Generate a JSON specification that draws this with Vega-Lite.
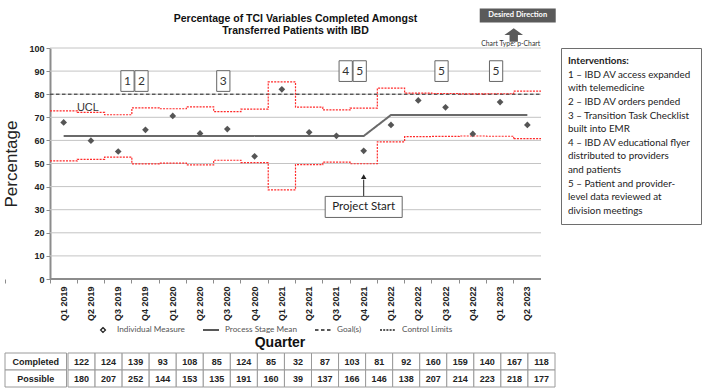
{
  "$schema": "https://vega.github.io/schema/vega-lite/v6.json",
  "background": "white",
  "padding": {"left": 1, "top": 8, "right": 2, "bottom": 2},
  "datasets": {
    "quarters": [
      {"q": "Q1 2019", "Completed": 122, "Possible": 180, "pct": 67.8, "ucl": 72.8, "lcl": 51.1, "mean": 61.9},
      {"q": "Q2 2019", "Completed": 124, "Possible": 207, "pct": 59.9, "ucl": 72.1, "lcl": 51.8, "mean": 61.9},
      {"q": "Q3 2019", "Completed": 139, "Possible": 252, "pct": 55.2, "ucl": 71.1, "lcl": 52.8, "mean": 61.9},
      {"q": "Q4 2019", "Completed": 93, "Possible": 144, "pct": 64.6, "ucl": 74.1, "lcl": 49.8, "mean": 61.9},
      {"q": "Q1 2020", "Completed": 108, "Possible": 153, "pct": 70.6, "ucl": 73.7, "lcl": 50.2, "mean": 61.9},
      {"q": "Q2 2020", "Completed": 85, "Possible": 135, "pct": 63.0, "ucl": 74.5, "lcl": 49.4, "mean": 61.9},
      {"q": "Q3 2020", "Completed": 124, "Possible": 191, "pct": 64.9, "ucl": 72.5, "lcl": 51.4, "mean": 61.9},
      {"q": "Q4 2020", "Completed": 85, "Possible": 160, "pct": 53.1, "ucl": 73.5, "lcl": 50.4, "mean": 61.9},
      {"q": "Q1 2021", "Completed": 32, "Possible": 39, "pct": 82.1, "ucl": 85.3, "lcl": 38.6, "mean": 61.9},
      {"q": "Q2 2021", "Completed": 87, "Possible": 137, "pct": 63.5, "ucl": 74.4, "lcl": 49.5, "mean": 61.9},
      {"q": "Q3 2021", "Completed": 103, "Possible": 166, "pct": 62.0, "ucl": 73.2, "lcl": 50.6, "mean": 61.9},
      {"q": "Q4 2021", "Completed": 81, "Possible": 146, "pct": 55.5, "ucl": 74.0, "lcl": 49.9, "mean": 61.9},
      {"q": "Q1 2022", "Completed": 92, "Possible": 138, "pct": 66.7, "ucl": 82.6, "lcl": 59.4, "mean": 71.0},
      {"q": "Q2 2022", "Completed": 160, "Possible": 207, "pct": 77.3, "ucl": 80.5, "lcl": 61.6, "mean": 71.0},
      {"q": "Q3 2022", "Completed": 159, "Possible": 214, "pct": 74.3, "ucl": 80.3, "lcl": 61.7, "mean": 71.0},
      {"q": "Q4 2022", "Completed": 140, "Possible": 223, "pct": 62.8, "ucl": 80.1, "lcl": 61.9, "mean": 71.0},
      {"q": "Q1 2023", "Completed": 167, "Possible": 218, "pct": 76.6, "ucl": 80.2, "lcl": 61.8, "mean": 71.0},
      {"q": "Q2 2023", "Completed": 118, "Possible": 177, "pct": 66.7, "ucl": 81.3, "lcl": 60.8, "mean": 71.0}
    ],
    "notes": [
      {"kind": "title", "q": "Q2 2021", "label": "Percentage of TCI Variables Completed Amongst\nTransferred Patients with IBD"},
      {"kind": "direction", "q": "Q2 2023", "label": "Desired Direction"},
      {"kind": "charttype", "q": "Q2 2023", "label": "Chart Type: p-Chart"},
      {"kind": "start", "q": "Q4 2021", "label": "Project Start"},
      {"kind": "ucl", "q": "Q2 2019", "label": "UCL"},
      {"kind": "box", "q": "Q4 2019", "label": "1"},
      {"kind": "box", "q": "Q4 2019", "label": "2"},
      {"kind": "box", "q": "Q3 2020", "label": "3"},
      {"kind": "box", "q": "Q4 2021", "label": "4"},
      {"kind": "box", "q": "Q4 2021", "label": "5"},
      {"kind": "box", "q": "Q3 2022", "label": "5"},
      {"kind": "box", "q": "Q1 2023", "label": "5"}
    ],
    "grid": [{"g": 10}, {"g": 20}, {"g": 30}, {"g": 40}, {"g": 50}, {"g": 60}, {"g": 70}, {"g": 80}, {"g": 90}, {"g": 100}],
    "goal": [{"goal": 80}],
    "interventions": [
      {"i": 0, "t": "Interventions:"},
      {"i": 1, "t": "1 – IBD AV access expanded"},
      {"i": 2, "t": "with telemedicine"},
      {"i": 3, "t": "2 – IBD AV orders pended"},
      {"i": 4, "t": "3 – Transition Task Checklist"},
      {"i": 5, "t": "built into EMR"},
      {"i": 6, "t": "4 – IBD AV educational flyer"},
      {"i": 7, "t": "distributed to providers"},
      {"i": 8, "t": "and patients"},
      {"i": 9, "t": "5 – Patient and provider-"},
      {"i": 10, "t": "level data reviewed at"},
      {"i": 11, "t": "division meetings"}
    ]
  },
  "concat": [
    {
      "hconcat": [
        {
          "width": 536,
          "height": 231,
          "data": {"name": "quarters"},
          "layer": [
            {
              "data": {"name": "grid"},
              "mark": {"type": "rule", "color": "#c4c4c4", "strokeWidth": 1},
              "encoding": {
                "x": {"datum": "Q1 2019", "type": "ordinal", "bandPosition": 0},
                "x2": {"datum": "Q2 2023", "bandPosition": 1},
                "y": {
                  "field": "g", "type": "quantitative",
                  "scale": {"domain": [0, 100], "nice": false},
                  "axis": {
                    "values": [0, 10, 20, 30, 40, 50, 60, 70, 80, 90, 100],
                    "tickCount": 11,
                    "labelOverlap": false,
                    "grid": false, "offset": -45,
                    "domainColor": "#8c8c8c", "domainWidth": 2,
                    "tickColor": "#8c8c8c", "tickSize": 4,
                    "labelFont": "Liberation Sans", "labelFontWeight": "bold", "labelFontSize": 9, "labelColor": "#222222",
                    "title": "Percentage", "titleFont": "Liberation Sans", "titleFontSize": 17, "titleFontWeight": "normal",
                    "titleColor": "#222222", "titlePadding": 8
                  }
                }
              }
            },
            {
              "mark": {"type": "rule", "color": "#8c8c8c", "strokeWidth": 1.5},
              "encoding": {
                "x": {"datum": "Q1 2019", "type": "ordinal", "bandPosition": 0},
                "x2": {"datum": "Q2 2023", "bandPosition": 1},
                "y": {"datum": 0}
              }
            },
            {
              "data": {"name": "goal"},
              "mark": {"type": "rule", "color": "#222222", "strokeWidth": 1},
              "encoding": {
                "x": {"datum": "Q1 2019", "type": "ordinal", "bandPosition": 0},
                "x2": {"datum": "Q2 2023", "bandPosition": 1},
                "y": {"field": "goal", "type": "quantitative"},
                "strokeDash": {
                  "datum": "Goal(s)",
                  "scale": {"domain": ["Individual Measure", "Process Stage Mean", "Goal(s)", "Control Limits"],
                            "range": [[1, 0], [1, 0], [3.5, 2.5], [2, 1.2]]},
                  "legend": {"title": null, "encode": {"symbols": {"update": {"fill": {"value": "#707070"}, "stroke": {"value": "#7a7a7a"}}}}}
                }
              }
            },
            {
              "mark": {"type": "line", "interpolate": "step-after", "color": "#ff2a2a", "strokeWidth": 1.2},
              "encoding": {
                "x": {
                  "field": "q", "type": "ordinal", "bandPosition": 0,
                  "scale": {"type": "band", "paddingInner": 0, "paddingOuter": 0.825, "align": 1,
                    "domain": ["Q1 2019","Q2 2019","Q3 2019","Q4 2019","Q1 2020","Q2 2020","Q3 2020","Q4 2020","Q1 2021","Q2 2021","Q3 2021","Q4 2021","Q1 2022","Q2 2022","Q3 2022","Q4 2022","Q1 2023","Q2 2023"]},
                  "axis": {
                    "title": null, "labelAngle": -90, "labelFont": "Liberation Sans", "labelFontWeight": "bold",
                    "labelFontSize": 9, "labelColor": "#222222", "labelPadding": 3,
                    "tickSize": 4, "tickColor": "#8c8c8c", "bandPosition": 0, "tickExtra": true,
                    "domain": false, "grid": false
                  }
                },
                "y": {"field": "ucl", "type": "quantitative"},
                "strokeDash": {"datum": "Control Limits"}
              }
            },
            {
              "mark": {"type": "line", "interpolate": "step-after", "color": "#ff2a2a", "strokeWidth": 1.2},
              "encoding": {
                "x": {"field": "q", "type": "ordinal", "bandPosition": 0},
                "y": {"field": "lcl", "type": "quantitative"},
                "strokeDash": {"datum": "Control Limits"}
              }
            },
            {
              "transform": [{"filter": "datum.q === 'Q2 2023'"}],
              "mark": {"type": "rule", "color": "#ff2a2a", "strokeWidth": 1.2},
              "encoding": {
                "x": {"field": "q", "type": "ordinal", "bandPosition": 0},
                "x2": {"field": "q", "bandPosition": 1},
                "y": {"field": "ucl", "type": "quantitative"},
                "strokeDash": {"datum": "Control Limits"}
              }
            },
            {
              "transform": [{"filter": "datum.q === 'Q2 2023'"}],
              "mark": {"type": "rule", "color": "#ff2a2a", "strokeWidth": 1.2},
              "encoding": {
                "x": {"field": "q", "type": "ordinal", "bandPosition": 0},
                "x2": {"field": "q", "bandPosition": 1},
                "y": {"field": "lcl", "type": "quantitative"},
                "strokeDash": {"datum": "Control Limits"}
              }
            },
            {
              "mark": {"type": "line", "color": "#6a6a6a", "strokeWidth": 2},
              "encoding": {
                "x": {"field": "q", "type": "ordinal"},
                "y": {"field": "mean", "type": "quantitative"},
                "strokeDash": {"datum": "Process Stage Mean"}
              }
            },
            {
              "mark": {"type": "point", "filled": true, "color": "#555555", "size": 500, "opacity": 1},
              "encoding": {
                "x": {"field": "q", "type": "ordinal"},
                "y": {"field": "pct", "type": "quantitative"},
                "shape": {
                  "datum": "Individual Measure",
                  "scale": {"domain": ["Individual Measure", "Process Stage Mean", "Goal(s)", "Control Limits"],
                            "range": ["M0,-0.3L0.3,0L0,0.3L-0.3,0Z", "stroke", "stroke", "stroke"]},
                  "legend": {"title": null, "encode": {"symbols": {"update": {"fill": {"value": "#707070"}, "stroke": {"value": "#7a7a7a"}}}}}
                }
              }
            },
            {
              "data": {"name": "notes"},
              "transform": [{"filter": "datum.kind === 'title'"}],
              "mark": {"type": "text", "lineBreak": "\n", "font": "Liberation Sans", "fontWeight": "bold", "fontSize": 10.5, "lineHeight": 12, "baseline": "alphabetic", "align": "center", "color": "#111111"},
              "encoding": {
                "x": {"field": "q", "type": "ordinal", "bandPosition": 0},
                "y": {"datum": 111.1},
                "text": {"field": "label"}
              }
            },
            {
              "data": {"name": "notes"},
              "transform": [{"filter": "datum.kind === 'direction'"}],
              "mark": {"type": "point", "shape": "M-1,-0.184H1V0.184H-1Z", "size": 5776, "filled": true, "color": "#5a5a5a", "opacity": 1, "xOffset": 4},
              "encoding": {
                "x": {"field": "q", "type": "ordinal", "bandPosition": 0},
                "y": {"datum": 114.1}
              }
            },
            {
              "data": {"name": "notes"},
              "transform": [{"filter": "datum.kind === 'direction'"}],
              "mark": {"type": "text", "font": "Lato", "fontWeight": "bold", "fontSize": 7.5, "color": "white", "baseline": "middle", "xOffset": 4},
              "encoding": {
                "x": {"field": "q", "type": "ordinal", "bandPosition": 0},
                "y": {"datum": 114.1},
                "text": {"field": "label"}
              }
            },
            {
              "data": {"name": "notes"},
              "transform": [{"filter": "datum.kind === 'direction'"}],
              "mark": {"type": "point", "shape": "M0,-0.72L1,0H0.45V0.72H-0.45V0H-1Z", "size": 346, "filled": true, "color": "#5a5a5a", "opacity": 1},
              "encoding": {
                "x": {"field": "q", "type": "ordinal", "bandPosition": 0},
                "y": {"datum": 105.6}
              }
            },
            {
              "data": {"name": "notes"},
              "transform": [{"filter": "datum.kind === 'charttype'"}],
              "mark": {"type": "text", "font": "Lato", "fontSize": 6.8, "color": "#333333", "baseline": "middle", "xOffset": -3},
              "encoding": {
                "x": {"field": "q", "type": "ordinal", "bandPosition": 0},
                "y": {"datum": 101.8},
                "text": {"field": "label"}
              }
            },
            {
              "data": {"name": "notes"},
              "transform": [{"filter": "datum.kind === 'ucl'"}],
              "mark": {"type": "text", "font": "Liberation Sans", "fontSize": 11, "color": "#333333", "baseline": "alphabetic", "xOffset": -3},
              "encoding": {
                "x": {"field": "q", "type": "ordinal"},
                "y": {"datum": 72.6},
                "text": {"field": "label"}
              }
            },
            {
              "data": {"name": "notes"},
              "transform": [{"filter": "datum.kind === 'start'"}],
              "mark": {"type": "rule", "color": "#222222", "strokeWidth": 1},
              "encoding": {
                "x": {"field": "q", "type": "ordinal"},
                "y": {"datum": 35.8},
                "y2": {"datum": 43.0}
              }
            },
            {
              "data": {"name": "notes"},
              "transform": [{"filter": "datum.kind === 'start'"}],
              "mark": {"type": "point", "shape": "triangle-up", "size": 30, "filled": true, "color": "#222222", "opacity": 1},
              "encoding": {
                "x": {"field": "q", "type": "ordinal"},
                "y": {"datum": 44.3}
              }
            },
            {
              "data": {"name": "notes"},
              "transform": [{"filter": "datum.kind === 'start'"}],
              "mark": {"type": "point", "shape": "M-1,-0.273H1V0.273H-1Z", "size": 5929, "filled": true, "fill": "white", "stroke": "#666666", "strokeWidth": 1, "opacity": 1},
              "encoding": {
                "x": {"field": "q", "type": "ordinal"},
                "y": {"datum": 31.2}
              }
            },
            {
              "data": {"name": "notes"},
              "transform": [{"filter": "datum.kind === 'start'"}],
              "mark": {"type": "text", "font": "Lato", "fontSize": 11.5, "color": "#222222", "baseline": "middle"},
              "encoding": {
                "x": {"field": "q", "type": "ordinal"},
                "y": {"datum": 31.2},
                "text": {"field": "label"}
              }
            },
            {
              "data": {"name": "notes"},
              "transform": [{"filter": "datum.kind === 'box' && datum.label === '1'"}],
              "layer": [
                {"mark": {"type": "point", "shape": "M-0.64,-1H0.64V1H-0.64Z", "size": 428, "filled": true, "fill": "white", "stroke": "#666666", "strokeWidth": 1, "opacity": 1, "xOffset": -18}},
                {"mark": {"type": "text", "font": "Lato", "fontSize": 12, "color": "#333333", "baseline": "middle", "xOffset": -18}, "encoding": {"text": {"field": "label"}}}
              ],
              "encoding": {"x": {"field": "q", "type": "ordinal"}, "y": {"datum": 85.7}}
            },
            {
              "data": {"name": "notes"},
              "transform": [{"filter": "datum.kind === 'box' && (datum.label === '2' || datum.label === '3')"}],
              "layer": [
                {"mark": {"type": "point", "shape": "M-0.64,-1H0.64V1H-0.64Z", "size": 428, "filled": true, "fill": "white", "stroke": "#666666", "strokeWidth": 1, "opacity": 1, "xOffset": -4}},
                {"mark": {"type": "text", "font": "Lato", "fontSize": 12, "color": "#333333", "baseline": "middle", "xOffset": -4}, "encoding": {"text": {"field": "label"}}}
              ],
              "encoding": {"x": {"field": "q", "type": "ordinal"}, "y": {"datum": 85.7}}
            },
            {
              "data": {"name": "notes"},
              "transform": [{"filter": "datum.kind === 'box' && datum.label === '4'"}],
              "layer": [
                {"mark": {"type": "point", "shape": "M-0.64,-1H0.64V1H-0.64Z", "size": 428, "filled": true, "fill": "white", "stroke": "#666666", "strokeWidth": 1, "opacity": 1, "xOffset": -18}},
                {"mark": {"type": "text", "font": "Lato", "fontSize": 12, "color": "#333333", "baseline": "middle", "xOffset": -18}, "encoding": {"text": {"field": "label"}}}
              ],
              "encoding": {"x": {"field": "q", "type": "ordinal"}, "y": {"datum": 90.0}}
            },
            {
              "data": {"name": "notes"},
              "transform": [{"filter": "datum.kind === 'box' && datum.label === '5'"}],
              "layer": [
                {"mark": {"type": "point", "shape": "M-0.64,-1H0.64V1H-0.64Z", "size": 428, "filled": true, "fill": "white", "stroke": "#666666", "strokeWidth": 1, "opacity": 1, "xOffset": -4}},
                {"mark": {"type": "text", "font": "Lato", "fontSize": 12, "color": "#333333", "baseline": "middle", "xOffset": -4}, "encoding": {"text": {"field": "label"}}}
              ],
              "encoding": {"x": {"field": "q", "type": "ordinal"}, "y": {"datum": 90.0}}
            }
          ]
        },
        {
          "width": 140,
          "height": 176,
          "view": {"stroke": "#6e6e6e", "strokeWidth": 1},
          "data": {"name": "interventions"},
          "layer": [
            {
              "transform": [{"filter": "datum.i === 0"}],
              "mark": {"type": "text", "align": "left", "baseline": "middle", "font": "Lato", "fontSize": 9.8, "fontWeight": "bold", "color": "#222222", "xOffset": 7},
              "encoding": {
                "x": {"datum": 0, "type": "quantitative", "scale": {"domain": [0, 1]}, "axis": null},
                "y": {"field": "i", "type": "ordinal", "scale": {"type": "point", "padding": 0.95}, "axis": null},
                "text": {"field": "t"}
              }
            },
            {
              "transform": [{"filter": "datum.i > 0"}],
              "mark": {"type": "text", "align": "left", "baseline": "middle", "font": "Lato", "fontSize": 9.8, "color": "#222222", "xOffset": 7},
              "encoding": {
                "x": {"datum": 0, "type": "quantitative"},
                "y": {"field": "i", "type": "ordinal"},
                "text": {"field": "t"}
              }
            }
          ]
        }
      ],
      "spacing": 4,
      "resolve": {
        "scale": {"shape": "independent", "strokeDash": "independent"},
        "legend": {"shape": "independent", "strokeDash": "independent"}
      }
    },
    {
      "title": {"text": "Quarter", "font": "Liberation Sans", "fontSize": 14, "fontWeight": "bold", "color": "#111111", "anchor": "middle", "offset": 3},
      "hconcat": [
        {
          "width": 61.5,
          "height": 34,
          "data": {"values": [{"row": "Completed"}, {"row": "Possible"}]},
          "layer": [
            {
              "mark": {"type": "rect", "fill": "white", "stroke": "#9a9a9a", "strokeWidth": 1},
              "encoding": {
                "y": {"field": "row", "type": "nominal", "scale": {"type": "band", "domain": ["Completed", "Possible"], "paddingInner": 0, "paddingOuter": 0}, "axis": null}
              }
            },
            {
              "mark": {"type": "text", "font": "Liberation Sans", "fontWeight": "bold", "fontSize": 9, "color": "#222222"},
              "encoding": {
                "y": {"field": "row", "type": "nominal"},
                "text": {"field": "row"}
              }
            }
          ]
        },
        {
          "width": 487,
          "height": 34,
          "data": {"name": "quarters"},
          "transform": [{"fold": ["Completed", "Possible"], "as": ["row", "n"]}],
          "layer": [
            {
              "mark": {"type": "rect", "fill": "white", "stroke": "#9a9a9a", "strokeWidth": 1},
              "encoding": {
                "x": {"field": "q", "type": "ordinal", "axis": null,
                  "scale": {"type": "band", "paddingInner": 0, "paddingOuter": 0,
                    "domain": ["Q1 2019","Q2 2019","Q3 2019","Q4 2019","Q1 2020","Q2 2020","Q3 2020","Q4 2020","Q1 2021","Q2 2021","Q3 2021","Q4 2021","Q1 2022","Q2 2022","Q3 2022","Q4 2022","Q1 2023","Q2 2023"]}},
                "y": {"field": "row", "type": "nominal", "axis": null, "scale": {"type": "band", "domain": ["Completed", "Possible"], "paddingInner": 0, "paddingOuter": 0}}
              }
            },
            {
              "mark": {"type": "text", "font": "Liberation Sans", "fontWeight": "bold", "fontSize": 9, "color": "#222222"},
              "encoding": {
                "x": {"field": "q", "type": "ordinal"},
                "y": {"field": "row", "type": "nominal"},
                "text": {"field": "n", "type": "quantitative"}
              }
            }
          ]
        }
      ],
      "spacing": 0
    }
  ],
  "columns": 1,
  "spacing": 0,
  "resolve": {
    "scale": {"shape": "independent", "strokeDash": "independent"},
    "legend": {"shape": "independent", "strokeDash": "independent"}
  },
  "config": {
    "view": {"stroke": null},
    "font": "Liberation Sans",
    "legend": {
      "orient": "bottom", "direction": "horizontal", "gridAlign": "none",
      "labelFont": "Lato", "labelFontSize": 8.2, "labelColor": "#555555",
      "symbolSize": 256, "symbolStrokeWidth": 1.3,
      "columnPadding": 15, "labelOffset": 5, "offset": 0,
      "layout": {"bottom": {"anchor": "middle"}}
    }
  }
}
